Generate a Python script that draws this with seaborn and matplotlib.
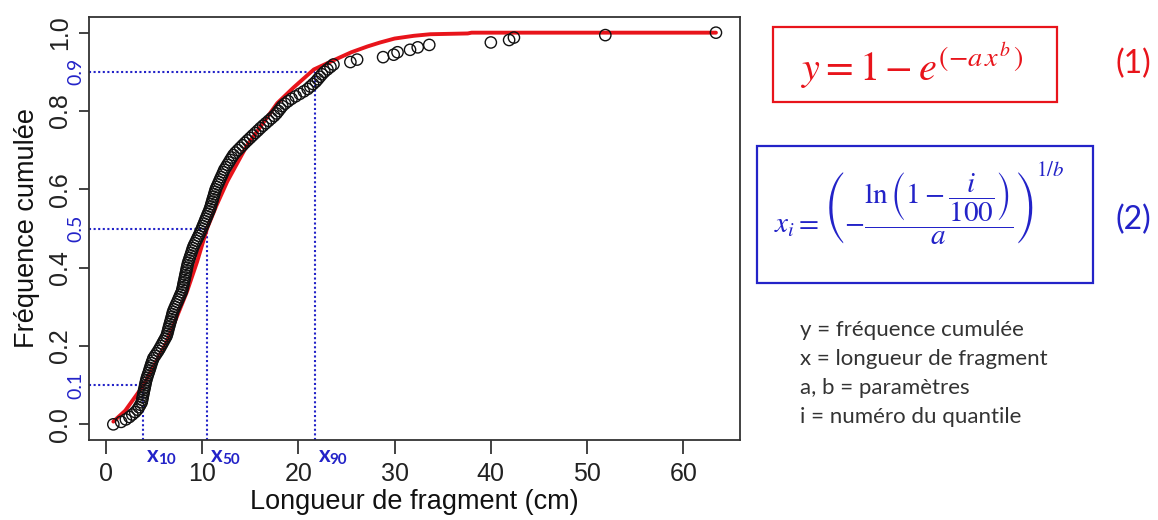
import numpy as np
import pandas as pd
import matplotlib
matplotlib.use("Agg")
import matplotlib.pyplot as plt
import matplotlib.transforms as mtransforms
from matplotlib.patches import Rectangle
import seaborn as sns

# ---------------- data ----------------
fragment_lengths = [
    0.76, 1.57, 2.06, 2.43, 2.73, 3.03, 3.26, 3.42, 3.57, 3.71,
    3.76, 3.81, 3.86, 3.91, 3.96, 4.02, 4.07, 4.12, 4.18, 4.25,
    4.33, 4.42, 4.50, 4.58, 4.66, 4.74, 4.83, 4.92, 5.09, 5.26,
    5.43, 5.58, 5.72, 5.86, 6.00, 6.14, 6.28, 6.36, 6.43, 6.49,
    6.56, 6.63, 6.70, 6.77, 6.84, 6.90, 6.97, 7.07, 7.18, 7.29,
    7.41, 7.52, 7.63, 7.74, 7.86, 7.93, 7.99, 8.04, 8.09, 8.15,
    8.20, 8.25, 8.31, 8.36, 8.41, 8.47, 8.53, 8.62, 8.70, 8.78,
    8.87, 8.95, 9.03, 9.13, 9.25, 9.38, 9.50, 9.63, 9.75, 9.86,
    9.97, 10.07, 10.18, 10.28, 10.38, 10.49, 10.59, 10.70, 10.80, 10.88,
    10.95, 11.03, 11.10, 11.18, 11.25, 11.33, 11.40, 11.51, 11.63, 11.74,
    11.85, 11.96, 12.08, 12.19, 12.30, 12.46, 12.61, 12.77, 12.92, 13.08,
    13.24, 13.45, 13.70, 13.95, 14.20, 14.45, 14.71, 14.98, 15.24, 15.51,
    15.78, 16.04, 16.32, 16.61, 16.90, 17.19, 17.48, 17.72, 17.92, 18.12,
    18.32, 18.60, 18.93, 19.29, 19.71, 20.14, 20.56, 20.96, 21.24, 21.52,
    21.80, 22.02, 22.23, 22.45, 22.70, 23.01, 23.33, 23.64, 25.40, 26.10,
    28.80, 29.90, 30.30, 31.60, 32.40, 33.60, 40.00, 41.90, 42.40, 51.90,
    63.40,
]

fit_x = [0.76, 2.0, 3.9, 6.3, 8.4, 9.45, 10.5, 11.5, 12.6, 14.6, 16.2, 17.8,
         19.5, 21.6, 23.7, 25.5, 27.2, 28.5, 30.0, 32.0, 33.7, 37.6, 38.0, 63.4]
fit_y = [0.007, 0.035, 0.10, 0.21, 0.338, 0.414, 0.50, 0.56, 0.62, 0.71, 0.765, 0.82,
         0.86, 0.906, 0.93, 0.95, 0.965, 0.975, 0.985, 0.992, 0.996, 0.998, 1.0, 1.0]

quantile_levels = [0.1, 0.5, 0.9]
quantile_x = [3.85, 10.5, 21.7]
quantile_names = ["10", "50", "90"]

x_ticks = [0, 10, 20, 30, 40, 50, 60]
y_ticks = [0.0, 0.2, 0.4, 0.6, 0.8, 1.0]

legend_lines = ["y = fréquence cumulée", "x = longueur de fragment",
                "a, b = paramètres", "i = numéro du quantile"]

# ECDF of the fragment lengths
df = pd.DataFrame({"longueur": fragment_lengths})
n = len(df)
df["freq"] = (df["longueur"].rank(method="first") - 1) / (n - 1)
fit_df = pd.DataFrame({"x": fit_x, "y": fit_y})

# ---------------- style ----------------
sns.set_style("ticks")
plt.rcParams["font.family"] = ["Liberation Sans", "DejaVu Sans"]
plt.rcParams["mathtext.fontset"] = "stix"

BLUE = "#2323C8"
RED = "#E8141B"

fig = plt.figure(figsize=(11.58, 5.2), dpi=100)
ax = fig.add_axes([89 / 1158, 80 / 520, (740 - 89) / 1158, (440 - 17) / 520])

# fitted curve
sns.lineplot(data=fit_df, x="x", y="y", ax=ax, color=RED, lw=2.8, sort=False,
             estimator=None, zorder=3)
# data points
sns.scatterplot(data=df, x="longueur", y="freq", ax=ax, marker="o", s=66,
                facecolors="none", edgecolor="#111111", linewidth=1.0, zorder=4)

xmin, xmax = -1.77, 65.9
ymin, ymax = -0.04, 1.04
ax.set_xlim(xmin, xmax)
ax.set_ylim(ymin, ymax)

# quantile guide lines
for q, qx in zip(quantile_levels, quantile_x):
    ax.vlines(qx, ymin, q, colors=BLUE, linestyles=(0, (1, 1.2)), lw=1.5, zorder=2)
    ax.hlines(q, xmin, qx, colors=BLUE, linestyles=(0, (1, 1.2)), lw=1.5, zorder=2)

ax.set_xticks(x_ticks)
ax.set_yticks(y_ticks)
ax.set_xticklabels([str(t) for t in x_ticks])
ax.set_yticklabels([f"{t:.1f}" for t in y_ticks], rotation=90, va="center")
ax.tick_params(axis="x", length=10, width=1.2, pad=6, labelsize=18, colors="#222222")
ax.tick_params(axis="y", length=7, width=1.2, pad=5, labelsize=18, colors="#222222")
for s in ax.spines.values():
    s.set_linewidth(1.3)
    s.set_color("#333333")

ax.set_xlabel("Longueur de fragment (cm)", fontsize=19.5, labelpad=2, color="#111111")
ax.set_ylabel("Fréquence cumulée", fontsize=19.5, labelpad=6, color="#111111")

# blue quantile labels on y axis
ytrans = mtransforms.blended_transform_factory(ax.transAxes, ax.transData)
for q in quantile_levels:
    ax.annotate(f"{q:.1f}", xy=(0, q), xycoords=ytrans, xytext=(-13, 0),
                textcoords="offset pixels", rotation=90, ha="center", va="center",
                fontsize=14, color=BLUE, family=["Lato", "DejaVu Sans"])

# x_i labels below the axis
xtrans = mtransforms.blended_transform_factory(ax.transData, ax.transAxes)
for qx, name in zip(quantile_x, quantile_names):
    ax.annotate("x", xy=(qx, 0), xycoords=xtrans, xytext=(4, -5),
                textcoords="offset pixels", ha="left", va="top", fontsize=16,
                fontweight="bold", color=BLUE, family=["Lato", "DejaVu Sans"],
                annotation_clip=False)
    ax.annotate(name, xy=(qx, 0), xycoords=xtrans, xytext=(15, -13),
                textcoords="offset pixels", ha="left", va="top", fontsize=11,
                fontweight="bold", color=BLUE, family=["Lato", "DejaVu Sans"],
                annotation_clip=False)

# ---------------- right-hand panel ----------------
fig.patches.append(Rectangle((773 / 1158, (520 - 102) / 520), 284 / 1158, 75 / 520,
                             transform=fig.transFigure, fill=False, ec=RED, lw=1.6))
fig.patches.append(Rectangle((757 / 1158, (520 - 283) / 520), 336 / 1158, 137 / 520,
                             transform=fig.transFigure, fill=False, ec=BLUE, lw=1.6))

fig.text(912 / 1158, 1 - 66 / 520, r"$y = 1 - e^{\left(-a\,x^{b}\,\right)}$", color=RED,
         fontsize=29, ha="center", va="center")
fig.text(1133 / 1158, 1 - 64 / 520, "(1)", color=RED, fontsize=23, ha="center",
         va="center", family=["Lato", "DejaVu Sans"])

fig.text(904 / 1158, 1 - 208 / 520,
         r"$x_i = \left(-\dfrac{\ln\left(1-\dfrac{i}{100}\right)}{a}\right)$",
         color=BLUE, fontsize=21, ha="center", va="center")
fig.text(1036 / 1158, 1 - 170 / 520, r"$1/b$", color=BLUE, fontsize=15,
         ha="left", va="center")
fig.text(1133 / 1158, 1 - 220 / 520, "(2)", color=BLUE, fontsize=23, ha="center",
         va="center", family=["Lato", "DejaVu Sans"])

for i, line in enumerate(legend_lines):
    fig.text(800 / 1158, 1 - (330 + 29 * i) / 520, line, color="#333333",
             fontsize=16, ha="left", va="center", family=["Lato", "DejaVu Sans"])

fig.savefig("out.png", dpi=100)
